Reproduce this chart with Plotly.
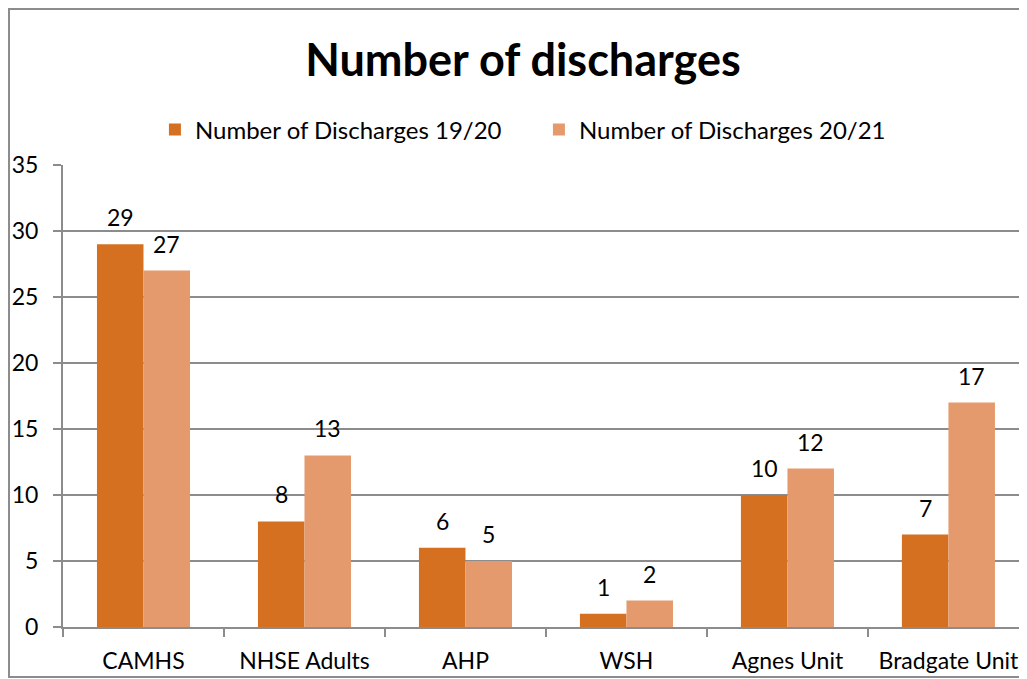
import plotly.graph_objects as go

categories = ["CAMHS", "NHSE Adults", "AHP", "WSH", "Agnes Unit", "Bradgate Unit"]
discharges_1920 = [29, 8, 6, 1, 10, 7]
discharges_2021 = [27, 13, 5, 2, 12, 17]
series_names = ["Number of Discharges 19/20", "Number of Discharges 20/21"]
y_ticks = [0, 5, 10, 15, 20, 25, 30, 35]

FONT = "Lato, Carlito, Calibri, sans-serif"
GRID = "#8c8c8c"
colors = ["#d4701f", "#e59a6d"]

fig = go.Figure()
for name, vals, col in zip(series_names, [discharges_1920, discharges_2021], colors):
    fig.add_trace(go.Bar(
        x=categories, y=vals, name=name,
        marker=dict(color=col, line=dict(width=0)),
    ))

# value labels above each bar
for vals, xs in [(discharges_1920, -23), (discharges_2021, 23)]:
    for c, v in zip(categories, vals):
        fig.add_annotation(x=c, y=v, text=str(v), showarrow=False,
                           xanchor="center", yanchor="bottom", xshift=xs, yshift=11,
                           font=dict(size=23, family=FONT, color="black"))

fig.update_layout(
    width=1019, height=671,
    margin=dict(l=55, r=0, t=157, b=52),
    paper_bgcolor="white", plot_bgcolor="white",
    font=dict(family=FONT, size=23, color="black"),
    barmode="group", bargap=0.422, bargroupgap=0,
    title=dict(text="<b>Number of discharges</b>", x=0.5054, xanchor="center",
               y=0.9225, yanchor="middle", font=dict(size=45, family=FONT, color="black")),
    legend=dict(orientation="h", x=0.4937, xanchor="center", y=1.0758, yanchor="middle",
                font=dict(size=24, family=FONT), entrywidth=339, entrywidthmode="pixels",
                traceorder="normal", bgcolor="rgba(0,0,0,0)"),
    showlegend=True,
)
fig.update_xaxes(
    range=[-0.5, 5.488], showgrid=False, showline=True, linecolor=GRID, linewidth=2,
    ticks="outside", tickson="boundaries", ticklen=8, tickcolor=GRID, tickwidth=2,
    ticklabelstandoff=12, tickfont=dict(size=23, family=FONT), fixedrange=True,
)
fig.update_yaxes(
    range=[0, 35], tickvals=y_ticks, showgrid=True, gridcolor=GRID, gridwidth=2,
    showline=True, linecolor=GRID, linewidth=2, zeroline=False,
    ticks="outside", ticklen=8, tickcolor=GRID, tickwidth=2, ticklabelstandoff=10,
    tickfont=dict(size=23, family=FONT),
)
# outer chart border
fig.add_shape(type="rect", xref="paper", yref="paper",
              x0=-0.056, x1=1.05, y0=-0.108, y1=1.3377,
              line=dict(color=GRID, width=2), fillcolor="rgba(0,0,0,0)", layer="below")

fig.write_html("out.html")
